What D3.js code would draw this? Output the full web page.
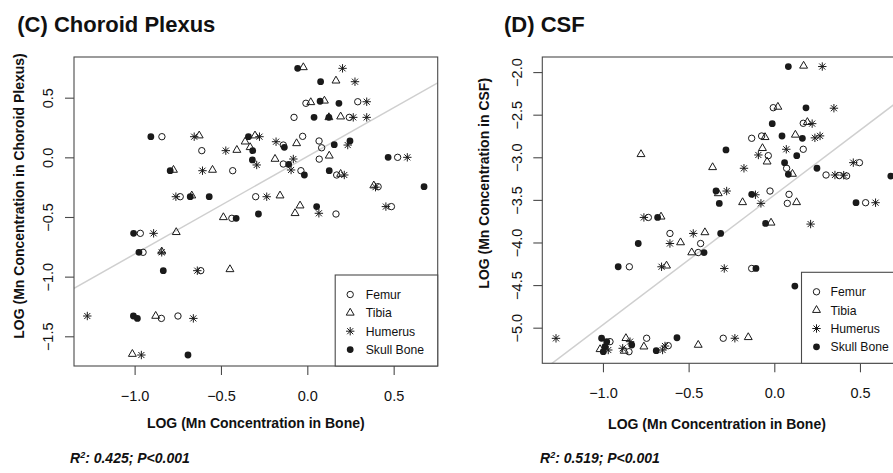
<!DOCTYPE html>
<html>
<head>
<meta charset="utf-8">
<script src="https://cdn.jsdelivr.net/npm/d3@7"></script>
<style>
  html, body { margin: 0; padding: 0; background: #fff; }
  svg { display: block; }
  text { font-family: "Liberation Sans", Arial, Helvetica, sans-serif; fill: #111; }
</style>
</head>
<body>
<svg id="chart" width="893" height="473"></svg>
<script>
// ---- Data: LOG Mn concentration in bone (x) vs tissue (y), per bone type ----
const seriesNames = ["Femur", "Tibia", "Humerus", "Skull Bone"];

// Panel C: choroid plexus
const choroidFemur = [
  [-0.008, 0.453], [0.292, 0.466], [-0.077, 0.335], [0.243, 0.335], [-0.842, 0.173],
  [-0.027, 0.176], [-0.611, 0.056], [-0.139, 0.103], [0.068, 0.137], [0.083, 0.080],
  [-0.139, -0.056], [-0.037, -0.112], [0.069, -0.015], [0.170, -0.148], [0.523, 0.0],
  [-0.736, -0.330], [-0.299, -0.330], [0.410, -0.246], [0.166, -0.475], [-0.437, -0.511],
  [0.487, -0.413], [-0.432, -0.112], [-0.967, -0.637], [-0.951, -0.796], [-0.617, -0.950],
  [-0.845, -1.350], [-0.749, -1.330]
];
const choroidTibia = [
  [-0.023, 0.754], [0.166, 0.642], [0.020, 0.461], [0.099, 0.474], [0.125, 0.335],
  [0.193, 0.341], [-0.626, 0.182], [-0.303, 0.182], [-0.360, 0.131], [-0.331, 0.084],
  [-0.408, 0.061], [-0.062, 0.117], [-0.187, -0.014], [0.127, 0.013], [0.193, -0.140],
  [-0.775, -0.106], [-0.549, -0.106], [-0.669, -0.321], [-0.158, -0.321], [0.385, -0.237],
  [-0.042, -0.405], [-0.071, -0.469], [-0.486, -0.503], [-0.759, -0.628], [-0.843, -0.790],
  [-0.448, -0.939], [-0.878, -1.330], [-1.013, -1.649]
];
const choroidHumerus = [
  [0.204, 0.746], [0.276, 0.634], [0.344, 0.466], [0.266, 0.335], [0.344, 0.335],
  [-0.655, 0.173], [-0.277, 0.173], [-0.472, 0.056], [-0.181, 0.131], [0.234, 0.103],
  [-0.293, -0.064], [-0.081, -0.014], [-0.094, -0.106], [0.214, -0.148], [0.579, 0.0],
  [-0.607, -0.112], [-0.761, -0.330], [-0.235, -0.330], [0.067, -0.469], [0.455, -0.413],
  [-0.890, -0.637], [-0.843, -0.796], [-0.637, -0.950], [-1.274, -1.330], [-0.660, -1.350],
  [-0.961, -1.657], [0.395, -0.250]
];
const choroidSkull = [
  [-0.056, 0.746], [0.077, 0.634], [0.074, 0.470], [0.183, 0.453], [0.039, 0.335],
  [0.125, 0.335], [-0.906, 0.173], [-0.341, 0.173], [-0.316, 0.056], [-0.133, 0.084],
  [0.156, 0.106], [0.247, 0.137], [-0.318, -0.022], [-0.108, -0.059], [-0.017, -0.148],
  [0.127, -0.112], [0.468, 0.0], [-0.794, -0.112], [-0.678, -0.330], [-0.568, -0.330],
  [0.054, -0.413], [-0.283, -0.475], [-0.412, -0.511], [0.676, -0.246], [-1.006, -0.637],
  [-0.975, -0.796], [-0.834, -0.950], [-1.007, -1.330], [-0.984, -1.350], [-0.691, -1.657]
];

// Panel D: CSF
const csfFemur = [
  [-0.006, -2.418], [0.169, -2.601], [-0.132, -2.777], [-0.074, -2.750], [-0.035, -2.981],
  [0.169, -2.906], [0.072, -3.129], [0.302, -3.208], [0.379, -3.215], [0.422, -3.219],
  [0.497, -3.063], [-0.025, -3.396], [0.086, -3.435], [0.076, -3.541], [0.533, -3.533],
  [-0.735, -3.706], [-0.609, -3.894], [-0.430, -4.012], [-0.444, -4.118], [-0.846, -4.285],
  [-0.132, -4.305], [0.208, -4.520], [-0.959, -5.164], [-0.848, -5.282], [-0.745, -5.124],
  [-0.619, -5.211], [-0.298, -5.124]
];
const csfTibia = [
  [0.171, -1.927], [0.021, -2.409], [0.193, -2.588], [-0.054, -2.765], [0.123, -2.737],
  [-0.778, -2.965], [-0.069, -2.894], [-0.042, -3.052], [0.106, -3.196], [-0.360, -3.118],
  [-0.327, -3.424], [-0.185, -3.529], [0.130, -3.529], [-0.661, -3.698], [-0.019, -3.769],
  [-0.405, -3.882], [-0.547, -4.000], [-0.482, -4.118], [-0.629, -4.273], [0.189, -4.487],
  [-1.017, -5.254], [-0.866, -5.124], [-0.876, -5.273], [-0.761, -5.223], [-0.444, -5.203],
  [-0.152, -5.113]
];
const csfHumerus = [
  [0.280, -1.935], [0.348, -2.424], [0.221, -2.605], [0.237, -2.772], [0.267, -2.749],
  [-0.093, -2.973], [0.070, -2.906], [-0.177, -3.129], [0.354, -3.208], [0.405, -3.210],
  [0.461, -3.063], [-0.278, -3.396], [-0.078, -3.541], [-0.110, -3.440], [0.591, -3.533],
  [-0.761, -3.706], [0.212, -3.784], [-0.473, -3.894], [-0.609, -4.012], [-0.658, -4.285],
  [-0.292, -4.305], [-1.274, -5.125], [-0.969, -5.262], [-0.885, -5.242], [-0.842, -5.164],
  [-0.652, -5.262], [-0.638, -5.215], [-0.230, -5.124]
];
const csfSkull = [
  [0.082, -1.935], [0.185, -2.420], [-0.012, -2.605], [0.045, -2.750], [0.164, -2.777],
  [-0.282, -2.914], [0.131, -2.981], [0.060, -3.063], [0.082, -3.200], [0.249, -3.129],
  [0.680, -3.220], [-0.340, -3.396], [-0.321, -3.541], [-0.132, -3.435], [0.477, -3.533],
  [-0.681, -3.706], [-0.051, -3.776], [-0.313, -3.894], [-0.794, -4.012], [-0.410, -4.118],
  [-0.911, -4.285], [-0.107, -4.305], [0.120, -4.512], [-1.008, -5.124], [-0.988, -5.223],
  [-0.998, -5.282], [-0.978, -5.164], [-0.832, -5.203], [-0.689, -5.270], [-0.568, -5.118]
];

// Axis ticks
const xTicks = [-1.0, -0.5, 0.0, 0.5];
const yTicksChoroid = [-1.5, -1.0, -0.5, 0.0, 0.5];
const yTicksCsf = [-5.0, -4.5, -4.0, -3.5, -3.0, -2.5, -2.0];

// Least-squares fits and statistics
const fitChoroid = { intercept: 0.007, slope: 0.818 };
const fitCsf = { intercept: -3.444, slope: 1.522 };
const r2Choroid = "0.425";
const r2Csf = "0.519";
const pText = "P<0.001";

// ---- Drawing ----
const svg = d3.select("#chart");
svg.append("rect").attr("width", 893).attr("height", 473).attr("fill", "#fff");

const INK = "#1a1a1a";
const FRAME = "#4a4a4a";
const fmt = d3.format(".1f");

function asteriskPath(size) {
  // plus sign overlaid with a diagonal cross
  const p = d3.path();
  const a = size, b = size * 0.72;
  p.moveTo(-a, 0); p.lineTo(a, 0);
  p.moveTo(0, -a); p.lineTo(0, a);
  p.moveTo(-b, -b); p.lineTo(b, b);
  p.moveTo(-b, b); p.lineTo(b, -b);
  return p.toString();
}

const markers = {
  "Femur":      { d: d3.symbol(d3.symbolCircle, Math.PI * 3.2 * 3.2)(), fill: "none", stroke: INK },
  "Tibia":      { d: d3.symbol(d3.symbolTriangle, 27)(), fill: "none", stroke: INK },
  "Humerus":    { d: asteriskPath(4.2), fill: "none", stroke: INK },
  "Skull Bone": { d: d3.symbol(d3.symbolCircle, Math.PI * 3.4 * 3.4)(), fill: INK, stroke: "none" }
};

function drawPanel(cfg) {
  const g = svg.append("g");
  const { left, right, top, bottom } = cfg.plot;
  const x = d3.scaleLinear().domain(cfg.xDomain).range([left, right]);
  const y = d3.scaleLinear().domain(cfg.yDomain).range([bottom, top]);

  // panel title
  g.append("text").attr("x", cfg.titleX).attr("y", 31.5)
    .attr("font-size", 22).attr("font-weight", "bold").text(cfg.title);

  // clip for the fitted line
  const clipId = "clip-" + cfg.id;
  svg.append("clipPath").attr("id", clipId)
    .append("rect").attr("x", left).attr("y", top)
    .attr("width", right - left).attr("height", bottom - top);

  // regression line
  const xd = x.domain();
  g.append("line")
    .attr("clip-path", `url(#${clipId})`)
    .attr("x1", x(xd[0])).attr("y1", y(cfg.fit.intercept + cfg.fit.slope * xd[0]))
    .attr("x2", x(xd[1])).attr("y2", y(cfg.fit.intercept + cfg.fit.slope * xd[1]))
    .attr("stroke", "#cfcfcf").attr("stroke-width", 1.5);

  // points
  cfg.series.forEach((pts, i) => {
    const m = markers[seriesNames[i]];
    g.append("g").selectAll("path").data(pts).join("path")
      .attr("transform", d => `translate(${x(d[0])},${y(d[1])})`)
      .attr("d", m.d).attr("fill", m.fill).attr("stroke", m.stroke)
      .attr("stroke-width", 1);
  });

  // frame
  g.append("rect").attr("x", left).attr("y", top)
    .attr("width", right - left).attr("height", bottom - top)
    .attr("fill", "none").attr("stroke", FRAME).attr("stroke-width", 1.1);

  // x axis
  const ax = g.append("g").attr("transform", `translate(0,${bottom})`)
    .call(d3.axisBottom(x).tickValues(xTicks).tickFormat(fmt).tickSize(9).tickSizeOuter(0));
  ax.select(".domain").remove();
  ax.selectAll(".tick line").attr("stroke", FRAME).attr("stroke-width", 1.1);
  ax.selectAll(".tick text").attr("y", 35).attr("dy", null)
    .attr("font-size", 14.5).attr("font-family", "Liberation Sans, Arial, sans-serif").attr("fill", "#111");

  // y axis, labels turned parallel to the axis
  const ay = g.append("g").attr("transform", `translate(${left},0)`)
    .call(d3.axisLeft(y).tickValues(cfg.yTicks).tickFormat(fmt).tickSize(9).tickSizeOuter(0));
  ay.select(".domain").remove();
  ay.selectAll(".tick line").attr("stroke", FRAME).attr("stroke-width", 1.1);
  ay.selectAll(".tick text").attr("x", null).attr("dy", null)
    .attr("transform", "translate(-20.7,0) rotate(-90)")
    .attr("text-anchor", "middle")
    .attr("font-size", 14.5).attr("font-family", "Liberation Sans, Arial, sans-serif").attr("fill", "#111");

  // axis titles
  g.append("text").attr("x", cfg.xTitleX).attr("y", cfg.xTitleY)
    .attr("text-anchor", "middle").attr("font-size", 14).attr("font-weight", "bold")
    .text("LOG (Mn Concentration in Bone)");
  g.append("text")
    .attr("transform", `translate(${cfg.yTitleX},${cfg.yTitleY}) rotate(-90)`)
    .attr("text-anchor", "middle").attr("font-size", 14).attr("font-weight", "bold")
    .text(cfg.yTitle);

  // legend anchored to the bottom-right corner of the plot
  const lw = 102.5, lh = 91;
  const lg = g.append("g").attr("transform", `translate(${right - lw},${bottom - lh})`);
  lg.append("rect").attr("width", lw).attr("height", lh)
    .attr("fill", "#fff").attr("stroke", FRAME).attr("stroke-width", 1.1);
  seriesNames.forEach((name, i) => {
    const ry = 19.5 + i * 18.35;
    const m = markers[name];
    lg.append("path").attr("transform", `translate(15,${ry})`)
      .attr("d", m.d).attr("fill", m.fill).attr("stroke", m.stroke).attr("stroke-width", 1);
    lg.append("text").attr("x", cfg.legendTextDx).attr("y", ry + 4.5)
      .attr("font-size", 12.2).text(name);
  });

  // statistics caption
  const st = g.append("text").attr("x", cfg.statX).attr("y", 463)
    .attr("font-size", 14).attr("font-weight", "bold").attr("font-style", "italic");
  st.append("tspan").text("R");
  st.append("tspan").attr("dy", -5).attr("font-size", 9).text("2");
  st.append("tspan").attr("dy", 5).text(`: ${cfg.r2}; ${pText}`);
}

drawPanel({
  id: "choroid",
  title: "(C) Choroid Plexus", titleX: 17.3,
  plot: { left: 74, right: 437.7, top: 57, bottom: 366 },
  xDomain: [-1.351, 0.755], yDomain: [-1.749, 0.841],
  yTicks: yTicksChoroid,
  series: [choroidFemur, choroidTibia, choroidHumerus, choroidSkull],
  fit: fitChoroid,
  yTitle: "LOG (Mn Concentration in Choroid Plexus)", yTitleX: 23.5, yTitleY: 196,
  xTitleX: 255.8, xTitleY: 427.5,
  legendTextDx: 30.5, statX: 70, r2: r2Choroid
});

drawPanel({
  id: "csf",
  title: "(D) CSF", titleX: 504,
  plot: { left: 542.3, right: 904, top: 57, bottom: 363.3 },
  xDomain: [-1.354, 0.757], yDomain: [-5.418, -1.823],
  yTicks: yTicksCsf,
  series: [csfFemur, csfTibia, csfHumerus, csfSkull],
  fit: fitCsf,
  yTitle: "LOG (Mn Concentration in CSF)", yTitleX: 489, yTitleY: 183.3,
  xTitleX: 717, xTitleY: 429,
  legendTextDx: 29, statX: 540, r2: r2Csf
});
</script>
</body>
</html>
